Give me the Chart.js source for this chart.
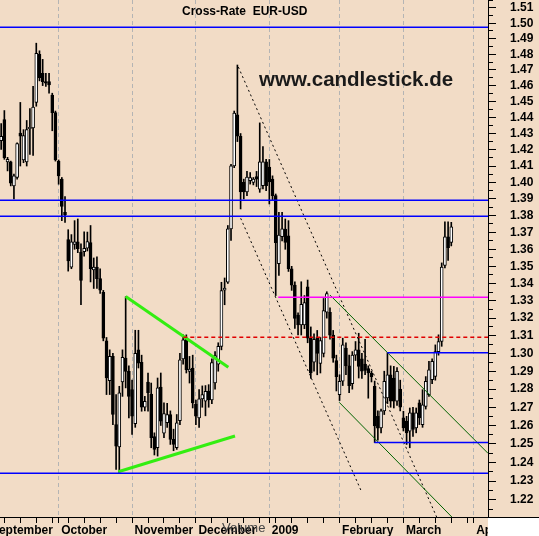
<!DOCTYPE html>
<html>
<head>
<meta charset="utf-8">
<script src="https://cdn.jsdelivr.net/npm/chart.js@4.4.1/dist/chart.umd.min.js"></script>
<style>
  html, body { margin: 0; padding: 0; background: #f2dcc6; }
  #chart { display: block; }
</style>
</head>
<body>
<canvas id="chart" width="539" height="536"></canvas>
<script>
// daily EUR/USD candles, one per weekday, first one = weekday 4 after 1 Sep 2008
const open = [
  1.4255, 1.4386, 1.4125, 1.4125, 1.3979, 1.4030, 1.4303, 1.4137, 1.4125, 1.4330,
  1.4334, 1.4494, 1.4800, 1.4678, 1.4625, 1.4625, 1.4540, 1.4430, 1.4129, 1.4020,
  1.3820, 1.3657, 1.3495, 1.3629, 1.3644, 1.3584, 1.3586, 1.3606, 1.3639, 1.3479,
  1.3496, 1.3428, 1.3348, 1.3071, 1.2847, 1.2983, 1.2605, 1.2483, 1.2840, 1.2973,
  1.2899, 1.2798, 1.2610, 1.3020, 1.2950, 1.2700, 1.2840, 1.2773, 1.2540, 1.2479,
  1.2811, 1.2558, 1.2616, 1.2660, 1.2524, 1.2479, 1.2627, 1.2969, 1.3082, 1.2899,
  1.2918, 1.2718, 1.2642, 1.2746, 1.2733, 1.2790, 1.2741, 1.2834, 1.2940, 1.3040,
  1.3361, 1.3407, 1.3721, 1.4101, 1.4417, 1.4283, 1.4000, 1.3942, 1.4010, 1.4000,
  1.4035, 1.3959, 1.3980, 1.4125, 1.4094, 1.4020, 1.3920, 1.3516, 1.3674, 1.3720,
  1.3680, 1.3486, 1.3390, 1.3218, 1.3162, 1.3162, 1.3380, 1.3086, 1.2950, 1.3090,
  1.2943, 1.3000, 1.3234, 1.3234, 1.3103, 1.2960, 1.2770, 1.2844, 1.3030, 1.2930,
  1.2830, 1.2990, 1.3020, 1.2970, 1.2940, 1.2915, 1.2890, 1.2816, 1.2650, 1.2587,
  1.2680, 1.2751, 1.2880, 1.2862, 1.2733, 1.2800, 1.2642, 1.2624, 1.2569, 1.2669,
  1.2587, 1.2724, 1.2605, 1.2705, 1.2770, 1.2853, 1.2871, 1.3010, 1.3067, 1.3506,
  1.3674, 1.3640
];
const high = [
  1.4361, 1.4443, 1.4153, 1.4130, 1.4050, 1.4243, 1.4494, 1.4324, 1.4381, 1.4455,
  1.4595, 1.4871, 1.4822, 1.4767, 1.4678, 1.4678, 1.4552, 1.4440, 1.4137, 1.4030,
  1.3914, 1.3716, 1.3687, 1.3770, 1.3780, 1.3633, 1.3704, 1.3702, 1.3741, 1.3549,
  1.3555, 1.3486, 1.3360, 1.3090, 1.3020, 1.3000, 1.2770, 1.2816, 1.3020, 1.3323,
  1.2930, 1.2850, 1.3131, 1.3131, 1.2990, 1.2760, 1.2890, 1.2834, 1.2560, 1.2862,
  1.2890, 1.2724, 1.2722, 1.2680, 1.2580, 1.2660, 1.3001, 1.3105, 1.3105, 1.2983,
  1.2990, 1.2740, 1.2797, 1.2818, 1.2820, 1.2825, 1.2970, 1.3010, 1.3060, 1.3407,
  1.3432, 1.3741, 1.4110, 1.4440, 1.4731, 1.4300, 1.4020, 1.4067, 1.4060, 1.4030,
  1.4067, 1.4366, 1.4220, 1.4141, 1.4140, 1.4040, 1.3930, 1.3820, 1.3820, 1.3780,
  1.3770, 1.3500, 1.3410, 1.3230, 1.3410, 1.3330, 1.3420, 1.3150, 1.3110, 1.3130,
  1.3090, 1.3313, 1.3352, 1.3260, 1.3130, 1.2990, 1.2880, 1.3086, 1.3060, 1.2990,
  1.3010, 1.3067, 1.3114, 1.3000, 1.3080, 1.2930, 1.2900, 1.2845, 1.2680, 1.2690,
  1.2900, 1.3004, 1.2930, 1.2927, 1.2920, 1.2850, 1.2678, 1.2650, 1.2696, 1.2700,
  1.2696, 1.2740, 1.2797, 1.2870, 1.2955, 1.2970, 1.3048, 1.3105, 1.3520, 1.3763,
  1.3763, 1.3760
];
const low = [
  1.4202, 1.4141, 1.4070, 1.3979, 1.3900, 1.4020, 1.4100, 1.4120, 1.4100, 1.4171,
  1.4165, 1.4470, 1.4630, 1.4600, 1.4595, 1.4552, 1.4317, 1.4130, 1.3989, 1.3770,
  1.3760, 1.3472, 1.3486, 1.3600, 1.3580, 1.3277, 1.3560, 1.3590, 1.3409, 1.3371,
  1.3371, 1.3342, 1.3071, 1.2770, 1.2770, 1.2605, 1.2362, 1.2345, 1.2760, 1.2807,
  1.2642, 1.2551, 1.2590, 1.2918, 1.2678, 1.2680, 1.2678, 1.2479, 1.2440, 1.2434,
  1.2600, 1.2533, 1.2590, 1.2497, 1.2463, 1.2470, 1.2605, 1.2940, 1.2890, 1.2834,
  1.2696, 1.2605, 1.2590, 1.2700, 1.2653, 1.2700, 1.2720, 1.2800, 1.2900, 1.3020,
  1.3277, 1.3400, 1.3652, 1.4090, 1.4250, 1.3840, 1.3900, 1.3920, 1.3990, 1.3985,
  1.3975, 1.3940, 1.3960, 1.3950, 1.3870, 1.3890, 1.3330, 1.3447, 1.3650, 1.3600,
  1.3470, 1.3360, 1.3142, 1.3104, 1.3104, 1.3140, 1.3060, 1.2860, 1.2900, 1.2880,
  1.2890, 1.2980, 1.3200, 1.3080, 1.2950, 1.2790, 1.2737, 1.2820, 1.2880, 1.2780,
  1.2800, 1.2960, 1.2862, 1.2860, 1.2880, 1.2750, 1.2840, 1.2507, 1.2520, 1.2560,
  1.2660, 1.2720, 1.2700, 1.2696, 1.2710, 1.2680, 1.2570, 1.2497, 1.2479, 1.2540,
  1.2560, 1.2605, 1.2590, 1.2690, 1.2760, 1.2830, 1.2850, 1.2990, 1.3040, 1.3490,
  1.3535, 1.3620
];
const close = [
  1.4283, 1.4151, 1.4141, 1.3995, 1.4040, 1.4238, 1.4283, 1.4287, 1.4324, 1.4338,
  1.4465, 1.4805, 1.4650, 1.4625, 1.4615, 1.4604, 1.4430, 1.4137, 1.4040, 1.3855,
  1.3804, 1.3531, 1.3644, 1.3644, 1.3603, 1.3418, 1.3606, 1.3645, 1.3486, 1.3496,
  1.3428, 1.3361, 1.3086, 1.2862, 1.2983, 1.2660, 1.2488, 1.2779, 1.2978, 1.2899,
  1.2760, 1.2651, 1.3000, 1.2945, 1.2700, 1.2733, 1.2779, 1.2533, 1.2470, 1.2807,
  1.2624, 1.2665, 1.2660, 1.2524, 1.2497, 1.2614, 1.2964, 1.3076, 1.2908, 1.2912,
  1.2724, 1.2651, 1.2746, 1.2770, 1.2788, 1.2741, 1.2949, 1.2988, 1.3040, 1.3359,
  1.3373, 1.3721, 1.4101, 1.4427, 1.4283, 1.3942, 1.3942, 1.4032, 1.4030, 1.4020,
  1.4020, 1.4125, 1.4125, 1.3980, 1.4003, 1.3920, 1.3639, 1.3684, 1.3721, 1.3640,
  1.3486, 1.3390, 1.3199, 1.3162, 1.3279, 1.3290, 1.3086, 1.2890, 1.3080, 1.3000,
  1.3073, 1.3244, 1.3342, 1.3103, 1.2973, 1.2870, 1.2844, 1.3048, 1.2930, 1.2820,
  1.2990, 1.3020, 1.2927, 1.2900, 1.2905, 1.2890, 1.2870, 1.2598, 1.2585, 1.2680,
  1.2843, 1.2880, 1.2733, 1.2733, 1.2899, 1.2700, 1.2587, 1.2560, 1.2669, 1.2578,
  1.2669, 1.2642, 1.2714, 1.2843, 1.2908, 1.2955, 1.3010, 1.3067, 1.3496, 1.3674,
  1.3610, 1.3733
];
// weekday number since Mon 1 Sep 2008 for each candle
const days = open.map((_, i) => 4 + i);

// x axis: month starts and Monday ticks (weekday numbers)
const monthPos = [0, 22, 45, 65, 88, 110, 130, 152];
const monthLabels = ['September', 'October', 'November', 'December', '2009', 'February', 'March', 'April'];
const weekPos = [5, 10, 15, 20, 25, 30, 35, 40, 50, 55, 60, 70, 75, 80, 85, 90, 95, 100, 105, 115, 120, 125, 135, 140, 145, 150];

// y axis labels
const priceTicks = [1.22, 1.23, 1.24, 1.25, 1.26, 1.27, 1.28, 1.29, 1.30, 1.31, 1.32, 1.33, 1.34, 1.35, 1.36,
  1.37, 1.38, 1.39, 1.40, 1.41, 1.42, 1.43, 1.44, 1.45, 1.46, 1.47, 1.48, 1.49, 1.50, 1.51];

// drawn support / resistance lines: [day, price] pairs
const blueLevels = [1.4974, 1.3892, 1.3796, 1.2342];
const blueShort = [[[124.96, 1.3004], [160, 1.3004]], [[120.89, 1.2507], [160, 1.2507]]];
const magentaLine = [[90.8, 1.3320], [160, 1.3320]];
const redLine = [[61.05, 1.3091], [160, 1.3091]];
const triangleUpper = [[43.0, 1.3324], [75.15, 1.2922]];
const triangleLower = [[40.7, 1.2350], [77.25, 1.2543]];
const channelUpper = [[107.0, 1.3333], [156.5, 1.2449]];
const channelLower = [[109.9, 1.2727], [150, 1.2028]];
const dottedA = [[78.3, 1.4718], [145, 1.1937]];
const dottedB = [[79.03, 1.3784], [116.72, 1.2250]];

const FONT = 'Liberation Sans, Arial, sans-serif';

function seg(points, color, width, dash) {
  return {
    type: 'line',
    data: points.map(p => ({ x: p[0], y: p[1] })),
    borderColor: color,
    borderWidth: width,
    borderDash: dash || [],
    pointRadius: 0,
    fill: false,
    order: 0
  };
}

const lineSets = [
  ...blueLevels.map(v => seg([[0, v], [160, v]], '#0000ff', 1.5)),
  ...blueShort.map(s => seg(s, '#0000ff', 1.5)),
  seg(magentaLine, '#ff00ff', 1.5),
  seg(redLine, '#e00000', 1.5, [4, 3]),
  seg(triangleUpper, '#33ee11', 3),
  seg(triangleLower, '#33ee11', 3),
  seg(channelUpper, '#006400', 1),
  seg(channelLower, '#006400', 1),
  seg(dottedA, '#000', 1, [2, 3]),
  seg(dottedB, '#000', 1, [2, 3])
];

const decor = {
  id: 'decor',
  beforeDraw(chart) {
    const ctx = chart.ctx;
    ctx.save();
    ctx.fillStyle = '#f2dcc6';
    ctx.fillRect(0, 0, chart.width, chart.height);
    ctx.restore();
  },
  afterDraw(chart) {
    const ctx = chart.ctx;
    const { right, bottom } = chart.chartArea;
    const xs = chart.scales.x;
    ctx.save();

    // month names, left aligned just after the month line
    ctx.fillStyle = '#000';
    ctx.font = 'bold 12px ' + FONT;
    ctx.textAlign = 'left';
    ctx.textBaseline = 'alphabetic';
    monthPos.forEach((p, i) => {
      ctx.fillText(monthLabels[i], xs.getPixelForValue(p) + 2.5, 534);
    });

    // white corner under the price axis
    ctx.fillStyle = '#fff';
    ctx.fillRect(right, bottom + 1, chart.width - right, chart.height - bottom);
    ctx.strokeStyle = '#000';
    ctx.lineWidth = 1;
    ctx.beginPath();
    ctx.moveTo(right, bottom + 0.5);
    ctx.lineTo(chart.width, bottom + 0.5);
    ctx.stroke();

    ctx.fillStyle = '#000';
    ctx.font = 'bold 12px ' + FONT;
    ctx.fillText('Cross-Rate  EUR-USD', 182, 15);
    ctx.fillStyle = '#1a1a1a';
    ctx.font = 'bold 20.5px ' + FONT;
    ctx.fillText('www.candlestick.de', 259, 86);
    ctx.fillStyle = '#444';
    ctx.font = '13px ' + FONT;
    ctx.fillText('Volume', 222, 532);
    ctx.restore();
  }
};

new Chart(document.getElementById('chart'), {
  type: 'bar',
  data: {
    datasets: [
      ...lineSets,
      {
        // bodies
        data: days.map((d, i) => ({ x: d, y: [Math.min(open[i], close[i]), Math.max(open[i], close[i])] })),
        backgroundColor: ctx => close[ctx.dataIndex] >= open[ctx.dataIndex] ? '#fff' : '#000',
        borderColor: '#000',
        borderWidth: 1,
        borderSkipped: false,
        barThickness: 3,
        grouped: false,
        order: 1
      },
      {
        // wicks
        data: days.map((d, i) => ({ x: d, y: [low[i], high[i]] })),
        backgroundColor: '#000',
        borderWidth: 0,
        barThickness: 1,
        grouped: false,
        order: 2
      }
    ]
  },
  options: {
    responsive: false,
    devicePixelRatio: 1,
    animation: false,
    layout: { padding: 0 },
    plugins: { legend: { display: false }, tooltip: { enabled: false } },
    scales: {
      x: {
        type: 'linear',
        offset: false,
        bounds: 'data',
        min: 3.634,
        max: 156.5,
        afterBuildTicks: scale => {
          const t = monthPos.map(v => ({ value: v, month: true }))
            .concat(weekPos.map(v => ({ value: v, month: false })));
          t.sort((a, b) => a.value - b.value);
          scale.ticks = t;
        },
        afterFit: scale => {
          scale.height = 19;
          scale.paddingLeft = 0;
          scale.paddingRight = 0;
        },
        ticks: {
          autoSkip: false,
          maxRotation: 0,
          minRotation: 0,
          padding: 0,
          callback: () => ''
        },
        grid: {
          offset: false,
          color: ctx => (ctx.tick && ctx.tick.month) ? '#b4b4b4' : 'rgba(0,0,0,0)',
          tickColor: '#000',
          tickLength: 6,
          lineWidth: 1
        },
        border: {
          display: true,
          color: '#000',
          width: 1,
          dash: ctx => ctx.tick ? [4, 3] : []
        }
      },
      y: {
        type: 'logarithmic',
        position: 'right',
        bounds: 'data',
        min: 1.211,
        max: 1.5152,
        afterBuildTicks: scale => {
          const t = [{ value: 1.215, minor: true }];
          priceTicks.forEach(v => {
            t.push({ value: v, minor: false });
            t.push({ value: v + 0.005, minor: true });
          });
          scale.ticks = t;
        },
        afterFit: scale => {
          scale.width = 51;
          scale.paddingTop = 0;
          scale.paddingBottom = 0;
        },
        ticks: {
          autoSkip: false,
          padding: 14,
          color: '#000',
          font: { family: FONT, size: 12, weight: 'bold' },
          callback: (v, i, ticks) => ticks[i].minor ? '' : v.toFixed(2)
        },
        grid: {
          drawOnChartArea: false,
          tickColor: '#000',
          tickLength: 8,
          tickBorderDash: ctx => (ctx.tick && ctx.tick.minor) ? [4, 20] : []
        },
        border: { display: true, color: '#000', width: 1 }
      }
    }
  },
  plugins: [decor]
});
</script>
</body>
</html>
